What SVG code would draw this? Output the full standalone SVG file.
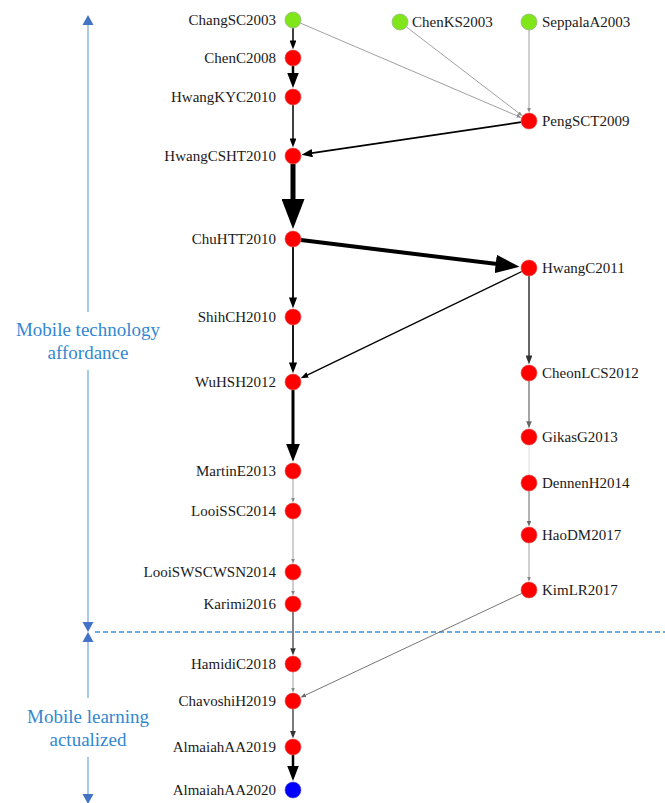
<svg xmlns="http://www.w3.org/2000/svg" width="665" height="803" viewBox="0 0 665 803">
<style>
.lbl{font-family:'Liberation Serif','DejaVu Serif','Noto Serif',serif;font-size:15px;fill:#1a1a1a}
.l{text-anchor:end}
.blue{font-family:'Liberation Serif','DejaVu Serif','Noto Serif',serif;font-size:19px;fill:#3387d1;text-anchor:middle}
.red{fill:#ff0000;stroke:#e05050;stroke-width:0.6}
.green{fill:#80e61a;stroke:#9ab88a;stroke-width:0.8}
.bluen{fill:#0000ff;stroke:#5050d0;stroke-width:0.6}
.e{fill:none}
.k{stroke:#000}
.d{stroke:#333}
.g{stroke:#666}
.lg{stroke:#888}
.axis{stroke:#a8c8ec;stroke-width:2;fill:none}
.ah{fill:#4472c4}
</style>
<defs>
<marker id="mk" markerWidth="6" markerHeight="4.6" refX="0.4" refY="2.3" orient="auto"><path d="M0,0 L6,2.3 L0,4.6 z" fill="#000"/></marker>
<marker id="md" markerWidth="6" markerHeight="4.6" refX="0.4" refY="2.3" orient="auto"><path d="M0,0 L6,2.3 L0,4.6 z" fill="#333"/></marker>
<marker id="mg" markerWidth="6" markerHeight="4.6" refX="0.4" refY="2.3" orient="auto"><path d="M0,0 L6,2.3 L0,4.6 z" fill="#666"/></marker>
<marker id="ml" markerWidth="6" markerHeight="4.6" refX="0.4" refY="2.3" orient="auto"><path d="M0,0 L6,2.3 L0,4.6 z" fill="#888"/></marker>
</defs>

<g id="axis">
<line class="axis" x1="88" y1="25" x2="88" y2="312"/>
<line class="axis" x1="88" y1="370" x2="88" y2="622"/>
<line class="axis" x1="88" y1="642" x2="88" y2="698"/>
<line class="axis" x1="88" y1="757" x2="88" y2="794"/>
<polygon class="ah" points="88,15 82.5,25 93.5,25"/>
<polygon class="ah" points="82.5,622 93.5,622 88,632"/>
<polygon class="ah" points="88,632 82.5,642 93.5,642"/>
<polygon class="ah" points="82.5,794 93.5,794 88,804"/>
<line x1="95" y1="632" x2="665" y2="632" stroke="#3a8fd8" stroke-width="1.3" stroke-dasharray="5,3"/>
<text class="blue" x="88" y="336">Mobile technology</text>
<text class="blue" x="88" y="359">affordance</text>
<text class="blue" x="88" y="723">Mobile learning</text>
<text class="blue" x="88" y="746">actualized</text>
</g>

<g id="connectors">
<line class="e k" x1="293" y1="28" x2="293" y2="41" stroke-width="1.5" marker-end="url(#mk)"/>
<line class="e k" x1="293" y1="66" x2="293" y2="74" stroke-width="2.5" marker-end="url(#mk)"/>
<line class="e k" x1="293" y1="105" x2="293" y2="139" stroke-width="1.5" marker-end="url(#mk)"/>
<line class="e lg" x1="300.4" y1="23.1" x2="517.2" y2="115.9" stroke-width="0.8" marker-end="url(#ml)"/>
<line class="e lg" x1="406.3" y1="26.9" x2="518.9" y2="113.2" stroke-width="0.8" marker-end="url(#ml)"/>
<line class="e lg" x1="529" y1="30" x2="529" y2="108.2" stroke-width="0.8" marker-end="url(#ml)"/>
<line class="e k" x1="521.1" y1="122.2" x2="311.6" y2="153.2" stroke-width="1.8" marker-end="url(#mk)"/>
<line class="e k" x1="293" y1="164" x2="293" y2="201" stroke-width="5" marker-end="url(#mk)"/>
<line class="e k" x1="300.9" y1="240" x2="497.3" y2="264.1" stroke-width="4" marker-end="url(#mk)"/>
<line class="e k" x1="293" y1="247" x2="293" y2="298.2" stroke-width="1.8" marker-end="url(#mk)"/>
<line class="e k" x1="293" y1="325" x2="293" y2="363.2" stroke-width="1.8" marker-end="url(#mk)"/>
<line class="e k" x1="521.8" y1="271.5" x2="307.2" y2="375.1" stroke-width="1.3" marker-end="url(#mk)"/>
<line class="e d" x1="529" y1="276" x2="529" y2="356" stroke-width="1.5" marker-end="url(#md)"/>
<line class="e g" x1="529" y1="381" x2="529" y2="421.8" stroke-width="1.2" marker-end="url(#mg)"/>
<line class="e" x1="529" y1="445" x2="529" y2="475" stroke="#dedede" stroke-width="1"/>
<line class="e g" x1="529" y1="491" x2="529" y2="521" stroke-width="1" marker-end="url(#mg)"/>
<line class="e lg" x1="529" y1="543" x2="529" y2="577.2" stroke-width="0.8" marker-end="url(#ml)"/>
<line class="e k" x1="293" y1="390" x2="293" y2="445" stroke-width="3" marker-end="url(#mk)"/>
<line class="e lg" x1="293" y1="479" x2="293" y2="498.2" stroke-width="0.8" marker-end="url(#ml)"/>
<line class="e lg" x1="293" y1="519" x2="293" y2="559.2" stroke-width="0.8" marker-end="url(#ml)"/>
<line class="e lg" x1="293" y1="580" x2="293" y2="591.2" stroke-width="0.8" marker-end="url(#ml)"/>
<line class="e d" x1="293" y1="612" x2="293" y2="648.8" stroke-width="1.2" marker-end="url(#md)"/>
<line class="e lg" x1="293" y1="672" x2="293" y2="688.2" stroke-width="0.8" marker-end="url(#ml)"/>
<line class="e g" x1="521.8" y1="593.4" x2="305.1" y2="695.3" stroke-width="0.9" marker-end="url(#mg)"/>
<line class="e d" x1="293" y1="709" x2="293" y2="731.2" stroke-width="1.3" marker-end="url(#md)"/>
<line class="e k" x1="293" y1="755" x2="293" y2="767" stroke-width="2.5" marker-end="url(#mk)"/>
</g>

<g id="ChangSC2003"><circle class="green" cx="293" cy="20" r="8"/><text class="lbl l" x="276" y="25">ChangSC2003</text></g>
<g id="ChenKS2003"><circle class="green" cx="400" cy="22" r="8"/><text class="lbl" x="412" y="27">ChenKS2003</text></g>
<g id="SeppalaA2003"><circle class="green" cx="529" cy="22" r="8"/><text class="lbl" x="542" y="27">SeppalaA2003</text></g>
<g id="ChenC2008"><circle class="red" cx="293" cy="58" r="8"/><text class="lbl l" x="276" y="63">ChenC2008</text></g>
<g id="HwangKYC2010"><circle class="red" cx="293" cy="97" r="8"/><text class="lbl l" x="276" y="102">HwangKYC2010</text></g>
<g id="PengSCT2009"><circle class="red" cx="529" cy="121" r="8"/><text class="lbl" x="542" y="126">PengSCT2009</text></g>
<g id="HwangCSHT2010"><circle class="red" cx="293" cy="156" r="8"/><text class="lbl l" x="276" y="161">HwangCSHT2010</text></g>
<g id="ChuHTT2010"><circle class="red" cx="293" cy="239" r="8"/><text class="lbl l" x="276" y="244">ChuHTT2010</text></g>
<g id="HwangC2011"><circle class="red" cx="529" cy="268" r="8"/><text class="lbl" x="542" y="273">HwangC2011</text></g>
<g id="ShihCH2010"><circle class="red" cx="293" cy="317" r="8"/><text class="lbl l" x="276" y="322">ShihCH2010</text></g>
<g id="CheonLCS2012"><circle class="red" cx="529" cy="373" r="8"/><text class="lbl" x="542" y="378">CheonLCS2012</text></g>
<g id="WuHSH2012"><circle class="red" cx="293" cy="382" r="8"/><text class="lbl l" x="276" y="387">WuHSH2012</text></g>
<g id="GikasG2013"><circle class="red" cx="529" cy="437" r="8"/><text class="lbl" x="542" y="442">GikasG2013</text></g>
<g id="MartinE2013"><circle class="red" cx="293" cy="471" r="8"/><text class="lbl l" x="276" y="476">MartinE2013</text></g>
<g id="DennenH2014"><circle class="red" cx="529" cy="483" r="8"/><text class="lbl" x="542" y="488">DennenH2014</text></g>
<g id="LooiSSC2014"><circle class="red" cx="293" cy="511" r="8"/><text class="lbl l" x="276" y="516">LooiSSC2014</text></g>
<g id="HaoDM2017"><circle class="red" cx="529" cy="535" r="8"/><text class="lbl" x="542" y="540">HaoDM2017</text></g>
<g id="LooiSWSCWSN2014"><circle class="red" cx="293" cy="572" r="8"/><text class="lbl l" x="276" y="577">LooiSWSCWSN2014</text></g>
<g id="KimLR2017"><circle class="red" cx="529" cy="590" r="8"/><text class="lbl" x="542" y="595">KimLR2017</text></g>
<g id="Karimi2016"><circle class="red" cx="293" cy="604" r="8"/><text class="lbl l" x="276" y="609">Karimi2016</text></g>
<g id="HamidiC2018"><circle class="red" cx="293" cy="664" r="8"/><text class="lbl l" x="276" y="669">HamidiC2018</text></g>
<g id="ChavoshiH2019"><circle class="red" cx="293" cy="701" r="8"/><text class="lbl l" x="276" y="706">ChavoshiH2019</text></g>
<g id="AlmaiahAA2019"><circle class="red" cx="293" cy="747" r="8"/><text class="lbl l" x="276" y="752">AlmaiahAA2019</text></g>
<g id="AlmaiahAA2020"><circle class="bluen" cx="293" cy="790" r="8"/><text class="lbl l" x="276" y="795">AlmaiahAA2020</text></g>
</svg>
